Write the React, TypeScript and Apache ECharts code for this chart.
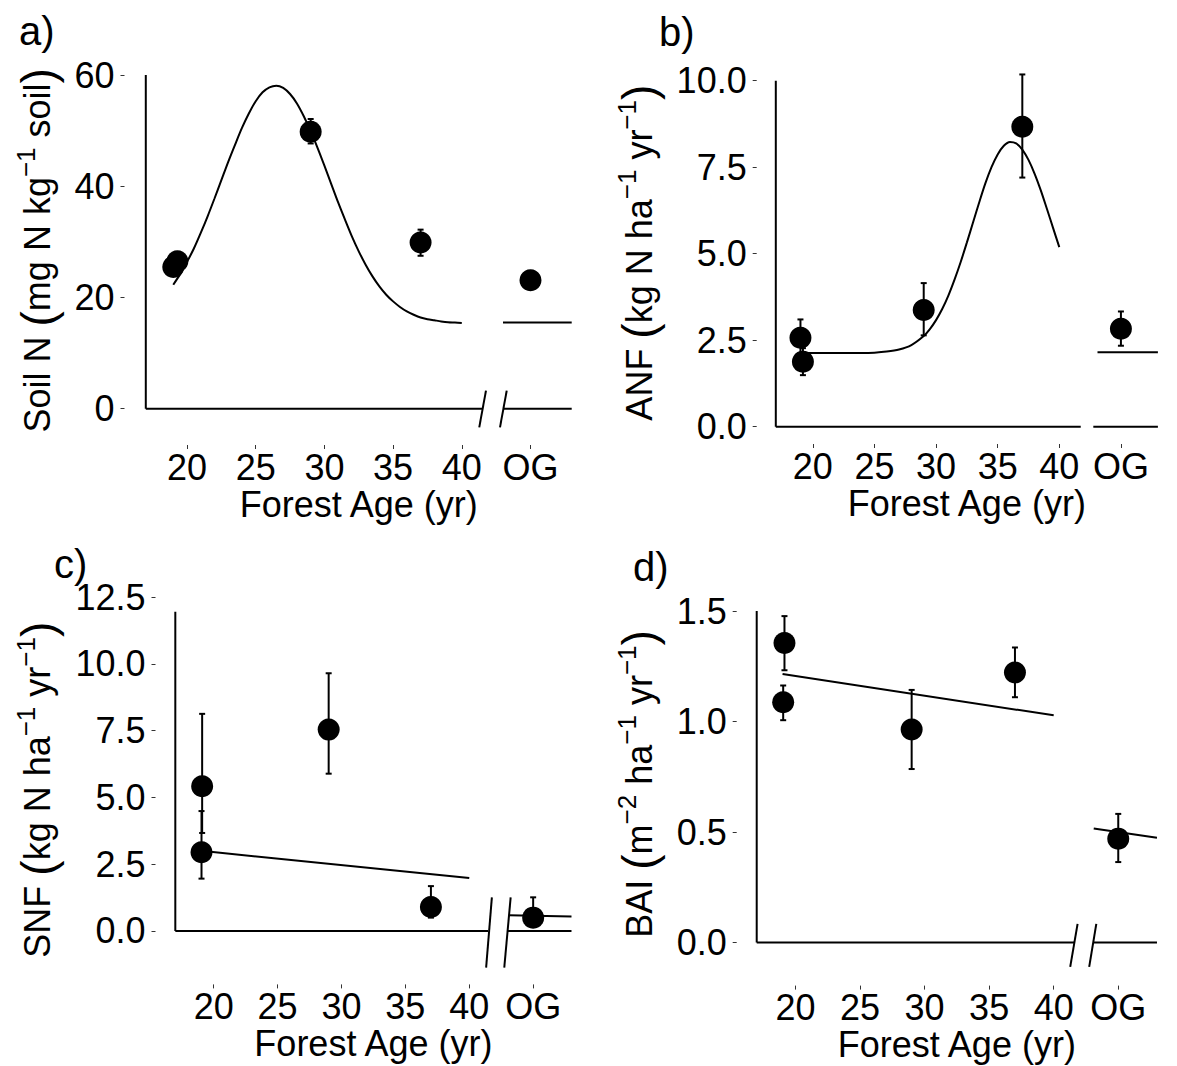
import React, { useEffect, useRef } from "react";
import * as echarts from "echarts";

const FONT = "'Liberation Sans', Arial, Helvetica, sans-serif";
const OG = 45;

// shared x axis
const xTicks = [20, 25, 30, 35, 40, 45];
const xTickLabels = ["20", "25", "30", "35", "40", "OG"];

// a) Soil N
const soilAge = [19.0, 19.3, 29.0, 37.0, OG];
const soilMean = [25.5, 26.5, 49.8, 29.9, 23.1];
const soilLow = [24.6, 25.6, 47.7, 27.5, 22.2];
const soilHigh = [26.4, 27.4, 52.1, 32.2, 24.0];
const soilFitAge = [19, 19.5, 20, 20.5, 21, 21.5, 22, 22.5, 23, 23.5, 24, 24.5, 25, 25.5, 26, 26.5, 27, 27.5, 28, 28.5, 29, 29.5, 30, 30.5, 31, 31.5, 32, 32.5, 33, 33.5, 34, 34.5, 35, 35.5, 36, 36.5, 37, 37.5, 38, 38.5, 39, 39.5, 40];
const soilFit = [22.3, 24.2, 26.4, 28.8, 31.6, 34.6, 37.8, 41.1, 44.4, 47.5, 50.5, 53.1, 55.3, 56.9, 57.8, 58.1, 57.7, 56.6, 54.9, 52.6, 49.9, 46.9, 43.7, 40.4, 37.1, 34.0, 31.0, 28.3, 25.9, 23.8, 22.0, 20.5, 19.3, 18.3, 17.5, 16.9, 16.4, 16.1, 15.9, 15.7, 15.55, 15.48, 15.4];
const soilOgFitAge = [43.0, 48];
const soilOgFit = [15.5, 15.5];
const soilTicks = [0, 20, 40, 60];

// b) ANF
const anfAge = [19.0, 19.2, 29.0, 37.0, OG];
const anfMean = [2.57, 1.88, 3.37, 8.67, 2.83];
const anfLow = [2.1, 1.49, 2.64, 7.2, 2.34];
const anfHigh = [3.1, 2.27, 4.15, 10.18, 3.33];
const anfFitAge = [19, 20, 21, 22, 23, 24, 25, 26, 27, 28, 29, 29.5, 30, 30.5, 31, 31.5, 32, 32.5, 33, 33.5, 34, 34.5, 35, 35.5, 36, 36.5, 37, 37.5, 38, 38.5, 39, 39.5, 40];
const anfFit = [2.13, 2.13, 2.13, 2.13, 2.13, 2.13, 2.14, 2.17, 2.23, 2.36, 2.62, 2.82, 3.08, 3.4, 3.79, 4.25, 4.76, 5.32, 5.9, 6.48, 7.03, 7.5, 7.87, 8.12, 8.23, 8.19, 8.01, 7.71, 7.31, 6.83, 6.29, 5.74, 5.19];
const anfOgFitAge = [43.1, 48];
const anfOgFit = [2.15, 2.15];
const anfTicks = [0, 2.5, 5, 7.5, 10];

// c) SNF
const snfAge = [19.1, 19.05, 29.0, 37.0, OG];
const snfMean = [5.42, 2.95, 7.54, 0.9, 0.5];
const snfLow = [3.67, 1.96, 5.89, 0.5, 0.2];
const snfHigh = [8.13, 4.49, 9.65, 1.68, 1.26];
const snfFitAge = [19, 40];
const snfFit = [3.0, 1.98];
const snfOgFitAge = [43.1, 48];
const snfOgFit = [0.59, 0.54];
const snfTicks = [0, 2.5, 5, 7.5, 10, 12.5];

// d) BAI
const baiAge = [19.15, 19.05, 29.0, 37.0, OG];
const baiMean = [1.355, 1.087, 0.964, 1.222, 0.47];
const baiLow = [1.232, 1.006, 0.785, 1.11, 0.364];
const baiHigh = [1.477, 1.163, 1.143, 1.335, 0.582];
const baiFitAge = [19, 40];
const baiFit = [1.215, 1.028];
const baiOgFitAge = [43.1, 48];
const baiOgFit = [0.516, 0.474];
const baiTicks = [0, 0.5, 1, 1.5];

const zip = (a: number[], b: number[]) => a.map((v, i) => [v, b[i]]);

const panels = [
  {
    tag: "a)", tagX: 19, tagY: 31,
    grid: { left: 124.5, top: 55.6, width: 468.5, height: 389.4 },
    yMin: -6.53, yMax: 63.5, yTicks: soilTicks, dec: 0, yTop: 60,
    segs: [[17, 41.5], [43.03, 48]],
    slashes: [[41.76, 3.24, 41.27, -3.35], [43.27, 3.24, 42.78, -3.35]],
    title: [["t", "Soil N "], ["p", "("], ["t", "mg N kg"], ["s", "−1"], ["t", " soil"], ["p", ")"]],
    titleX: 37.6,
    age: soilAge, mean: soilMean, low: soilLow, high: soilHigh,
    fits: [[soilFitAge, soilFit, 0.3], [soilOgFitAge, soilOgFit, false]],
  },
  {
    tag: "b)", tagX: 659, tagY: 32,
    grid: { left: 756.7, top: 61.3, width: 436.5, height: 382.7 },
    yMin: -0.5, yMax: 10.56, yTicks: anfTicks, dec: 1, yTop: 10,
    segs: [[17, 41.74], [42.76, 48]],
    slashes: [],
    title: [["t", "ANF "], ["p", "("], ["t", "kg N ha"], ["s", "−1"], ["t", " yr"], ["s", "−1"], ["p", ")"]],
    titleX: 639.3,
    age: anfAge, mean: anfMean, low: anfLow, high: anfHigh,
    fits: [[anfFitAge, anfFit, 0.3], [anfOgFitAge, anfOgFit, false]],
  },
  {
    tag: "c)", tagX: 54, tagY: 564,
    grid: { left: 155.5, top: 595, width: 435.8, height: 389.4 },
    yMin: -2.0, yMax: 12.58, yTicks: snfTicks, dec: 1, yTop: 11.95,
    segs: [[17, 41.47], [43.0, 48]],
    slashes: [[41.77, 1.26, 41.32, -1.37], [43.24, 1.26, 42.74, -1.37]],
    title: [["t", "SNF "], ["p", "("], ["t", "kg N ha"], ["s", "−1"], ["t", " yr"], ["s", "−1"], ["p", ")"]],
    titleX: 37.6,
    age: snfAge, mean: snfMean, low: snfLow, high: snfHigh,
    fits: [[snfFitAge, snfFit, false], [snfOgFitAge, snfOgFit, false]],
  },
  {
    tag: "d)", tagX: 633, tagY: 567,
    grid: { left: 736.7, top: 582.3, width: 454.2, height: 403.3 },
    yMin: -0.195, yMax: 1.63, yTicks: baiTicks, dec: 1, yTop: 1.5,
    segs: [[17, 41.63], [43.08, 48]],
    slashes: [[41.85, 0.084, 41.28, -0.11], [43.3, 0.084, 42.75, -0.11]],
    title: [["t", "BAI "], ["p", "("], ["t", "m"], ["s", "−2"], ["t", " ha"], ["s", "−1"], ["t", " yr"], ["s", "−1"], ["p", ")"]],
    titleX: 639.3,
    age: baiAge, mean: baiMean, low: baiLow, high: baiHigh,
    fits: [[baiFitAge, baiFit, false], [baiOgFitAge, baiOgFit, false]],
  },
];

const BLACK = "#000";
const lineSeries = (i: number, data: number[][], smooth: any = false, width = 2) => ({
  type: "line",
  xAxisIndex: i,
  yAxisIndex: i,
  data,
  smooth,
  symbol: "none",
  silent: true,
  lineStyle: { color: BLACK, width },
  z: 2,
});

function buildOption() {
  const grids: any[] = [];
  const xAxes: any[] = [];
  const yAxes: any[] = [];
  const series: any[] = [];
  const graphics: any[] = [];

  panels.forEach((p, i) => {
    grids.push({ ...p.grid, containLabel: false });
    xAxes.push({
      type: "value",
      gridIndex: i,
      min: 15.45,
      max: 49.55,
      axisLine: { show: false, onZero: false },
      splitLine: { show: false },
      axisTick: { show: true, customValues: xTicks, length: 4, lineStyle: { color: "#333", width: 1 } },
      axisLabel: {
        customValues: xTicks,
        formatter: (v: number) => xTickLabels[xTicks.indexOf(v)] ?? "",
        margin: 9,
        lineHeight: 26,
        fontSize: 36,
        color: BLACK,
        fontFamily: FONT,
      },
      name: "Forest Age (yr)",
      nameLocation: "middle",
      nameGap: 44,
      nameTextStyle: { fontSize: 36, lineHeight: 30, color: BLACK, fontFamily: FONT },
    });
    yAxes.push({
      type: "value",
      gridIndex: i,
      min: p.yMin,
      max: p.yMax,
      axisLine: { show: false, onZero: false },
      splitLine: { show: false },
      axisTick: { show: true, customValues: p.yTicks, length: 4, lineStyle: { color: "#333", width: 1 } },
      axisLabel: {
        customValues: p.yTicks,
        formatter: (v: number) => v.toFixed(p.dec),
        margin: 10,
        fontSize: 36,
        color: BLACK,
        fontFamily: FONT,
      },
    });

    // axis lines with break
    series.push(lineSeries(i, [[17, p.yTop], [17, 0]]));
    p.segs.forEach((s) => series.push(lineSeries(i, [[s[0], 0], [s[1], 0]])));
    p.slashes.forEach((s) => series.push(lineSeries(i, [[s[0], s[1]], [s[2], s[3]]])));

    // fits
    p.fits.forEach((f: any) => series.push(lineSeries(i, zip(f[0], f[1]), f[2])));

    // error bars
    series.push({
      type: "custom",
      xAxisIndex: i,
      yAxisIndex: i,
      silent: true,
      z: 3,
      data: p.age.map((a, k) => [a, p.low[k], p.high[k]]),
      encode: { x: 0, y: [1, 2] },
      renderItem: (_params: any, api: any) => {
        const x = api.value(0);
        const lo = api.coord([x, api.value(1)]);
        const hi = api.coord([x, api.value(2)]);
        const cap = 3;
        const style = { stroke: BLACK, lineWidth: 2 };
        return {
          type: "group",
          children: [
            { type: "line", shape: { x1: lo[0], y1: lo[1], x2: hi[0], y2: hi[1] }, style },
            { type: "line", shape: { x1: lo[0] - cap, y1: lo[1], x2: lo[0] + cap, y2: lo[1] }, style },
            { type: "line", shape: { x1: hi[0] - cap, y1: hi[1], x2: hi[0] + cap, y2: hi[1] }, style },
          ],
        };
      },
    });

    // points
    series.push({
      type: "scatter",
      xAxisIndex: i,
      yAxisIndex: i,
      symbol: "circle",
      symbolSize: 22,
      itemStyle: { color: BLACK, opacity: 1 },
      data: zip(p.age, p.mean),
      silent: true,
      z: 4,
    });

    // tag
    graphics.push({
      type: "text",
      x: p.tagX,
      y: p.tagY,
      style: { text: p.tag, fontSize: 40, fontFamily: FONT, fill: BLACK, align: "left", verticalAlign: "middle" },
    });

    // y title
    const text = p.title.map(([k, s]) => `{${k}|${s}}`).join("");
    graphics.push({
      type: "text",
      x: p.titleX,
      y: p.grid.top + p.grid.height / 2,
      rotation: Math.PI / 2,
      style: {
        text,
        align: "center",
        verticalAlign: "middle",
        fill: BLACK,
        fontFamily: FONT,
        rich: {
          t: { fontSize: 36, lineHeight: 50, fontFamily: FONT, fill: BLACK, color: BLACK },
          p: { fontSize: 46, lineHeight: 50, fontFamily: FONT, fill: BLACK, color: BLACK },
          s: { fontSize: 26, lineHeight: 27, verticalAlign: "top", fontFamily: FONT, fill: BLACK, color: BLACK },
        },
      },
    });
  });

  return {
    animation: false,
    backgroundColor: "#fff",
    grid: grids,
    xAxis: xAxes,
    yAxis: yAxes,
    series,
    graphic: graphics,
  };
}

export default function App() {
  const ref = useRef<HTMLDivElement>(null);
  useEffect(() => {
    document.body.style.margin = "0";
    if (!ref.current) return;
    const chart = echarts.init(ref.current, undefined, { renderer: "svg" });
    chart.setOption(buildOption() as any);
    return () => chart.dispose();
  }, []);
  return <div ref={ref} style={{ width: 1177, height: 1066, background: "#fff" }} />;
}
